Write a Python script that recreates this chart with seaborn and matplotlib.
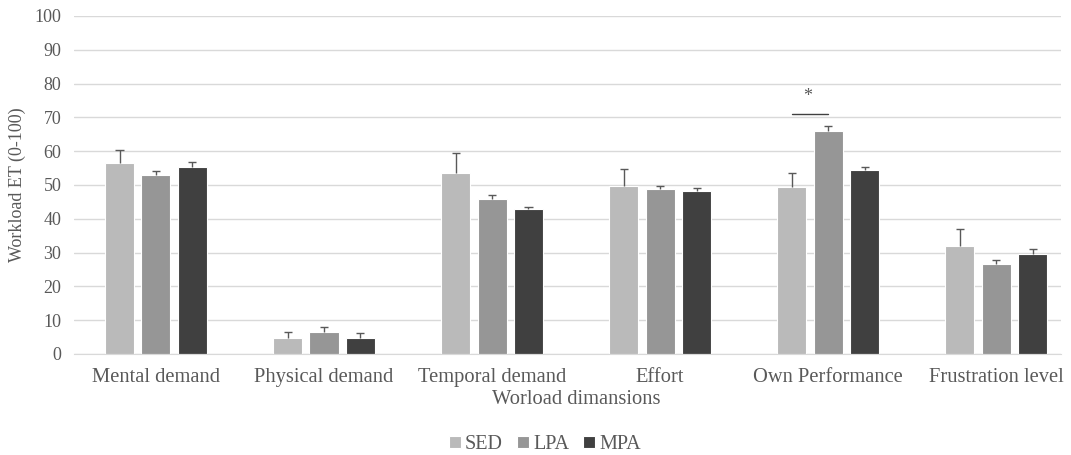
import pandas as pd
import matplotlib
matplotlib.use('Agg')
import matplotlib.pyplot as plt
import seaborn as sns

# 数据
categories = ['Mental demand', 'Physical demand', 'Temporal demand', 'Effort', 'Own Performance', 'Frustration level']
groups = ['SED', 'LPA', 'MPA']
sed_mean = [56.4, 4.6, 53.4, 49.8, 49.3, 32.0]
lpa_mean = [53.0, 6.6, 45.8, 48.8, 66.1, 26.5]
mpa_mean = [55.4, 4.6, 42.8, 48.3, 54.4, 29.6]
sed_err = [4.0, 1.9, 6.0, 4.9, 4.3, 5.0]
lpa_err = [1.2, 1.4, 1.3, 0.8, 1.4, 1.4]
mpa_err = [1.3, 1.5, 0.7, 0.8, 0.8, 1.4]
colors = ['#BABABA', '#969696', '#404040']

df = pd.DataFrame({
    'dim': categories * 3,
    'group': [g for g in groups for _ in categories],
    'value': sed_mean + lpa_mean + mpa_mean,
})
errs = [sed_err, lpa_err, mpa_err]

sns.set_style('white')
plt.rcParams['font.family'] = ['Liberation Serif', 'DejaVu Serif']
text_color = '#595959'

fig = plt.figure(figsize=(10.71, 4.55), dpi=100)
ax = fig.add_axes([0.069, 0.222, 0.922, 0.743])

sns.barplot(data=df, x='dim', y='value', hue='group', palette=colors,
            width=0.65, gap=0.2, edgecolor='white', linewidth=0.8, ax=ax, legend=True)

# 误差线（只画上半部分，顶端带横帽）
cap = 0.024
for cont, err in zip(ax.containers, errs):
    for b, e in zip(cont, err):
        xc = b.get_x() + b.get_width() / 2
        top = b.get_height()
        ax.vlines(xc, top, top + e, color='#595959', lw=1, zorder=3)
        ax.hlines(top + e, xc - cap, xc + cap, color='#595959', lw=1, zorder=3)

# 显著性标记
ax.plot([4 - 0.214, 4.0], [71, 71], color='#404040', lw=1)
ax.text(3.88, 76.3, '*', ha='center', va='center', fontsize=13, color=text_color)

ax.set_ylim(0, 100)
ax.set_xlim(-0.488, 5.387)
ax.set_yticks(range(0, 101, 10))
ax.grid(axis='y', color='#D9D9D9', lw=1)
ax.set_axisbelow(True)
for s in ['top', 'right', 'left']:
    ax.spines[s].set_visible(False)
ax.spines['bottom'].set_color('#D9D9D9')
ax.tick_params(axis='both', length=0, colors=text_color)
ax.tick_params(axis='y', labelsize=13, pad=9)
ax.tick_params(axis='x', labelsize=14.8, pad=10)
ax.set_xlabel('Worload dimansions', fontsize=14.8, color=text_color)
ax.xaxis.set_label_coords(0.509, -0.107)
ax.set_ylabel('Workload ET (0-100)', fontsize=13, color=text_color, labelpad=6)

ax.legend(loc='center', bbox_to_anchor=(0.477, -0.268), ncol=3, frameon=False,
          fontsize=14.5, handlelength=0.6, handleheight=0.6, handletextpad=0.2,
          columnspacing=0.7, labelcolor=text_color)

plt.savefig('out.png', dpi=100)
